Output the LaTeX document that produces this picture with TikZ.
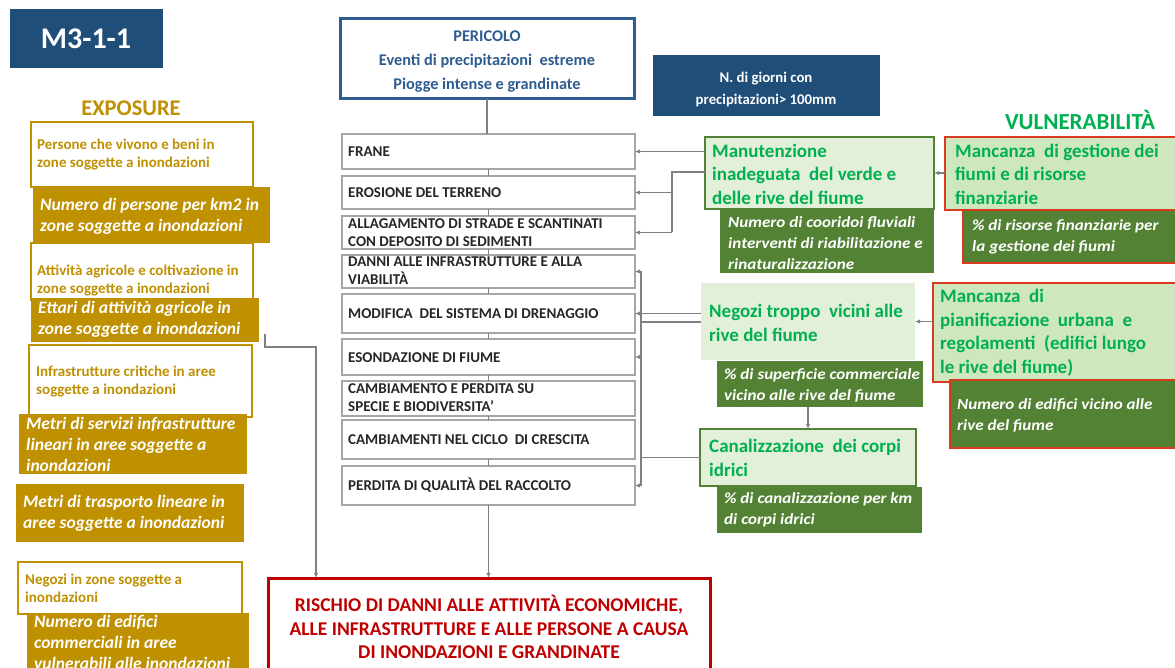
\documentclass[tikz,border=0pt]{standalone}
\usepackage{fontspec}
\setmainfont{Carlito}
\newfontfamily\indfont[FakeStretch=1.1]{Carlito}
\usetikzlibrary{arrows.meta}
\definecolor{navy}{HTML}{1F4E79}
\definecolor{perblue}{HTML}{2E5C8E}
\definecolor{gold}{HTML}{BF9000}
\definecolor{lgreen}{HTML}{E2F0D9}
\definecolor{vfill}{HTML}{CFE7BF}
\definecolor{dgreen}{HTML}{548235}
\definecolor{tgreen}{HTML}{00B050}
\definecolor{vred}{HTML}{D83B1E}
\definecolor{rred}{HTML}{C00000}
\definecolor{bgray}{HTML}{A6A6A6}
\definecolor{cgray}{HTML}{808080}
\definecolor{tdark}{HTML}{262626}
\newcommand\fs[2]{\fontsize{#1}{#2}\selectfont}
\newcommand\rbox[6]{%
 \pgfmathsetmacro\bxw{#4-#2}\pgfmathsetmacro\bxh{#5-#3}%
 \pgfmathsetmacro\bxcx{(#2+#4)/2}\pgfmathsetmacro\bxcy{(#3+#5)/2}%
 \node[#6, minimum width=\bxw pt, minimum height=\bxh pt, inner sep=0pt, outer sep=0pt] (#1) at (\bxcx,\bxcy) {};}
\newcommand\tx[5]{\node[#4, anchor=west, inner sep=0pt, align=left] (#1) at (#2,#3) {#5};}
\newcommand\tc[5]{\node[#4, inner sep=0pt, align=center] (#1) at (#2,#3) {#5};}
\begin{document}
\begin{tikzpicture}[x=1pt,y=-1pt,
 ew/.style={draw=gold, line width=1.5pt, fill=white},
 ef/.style={fill=gold},
 etw/.style={text=gold, font=\bfseries\fs{15}{18}},
 etf/.style={text=white, font=\bfseries\itshape\fs{17.5}{21}},
 cb/.style={draw=bgray, line width=1.5pt, fill=white},
 ct/.style={text=tdark, font=\bfseries\fs{15}{18}},
 gb/.style={fill=lgreen, draw=dgreen, line width=1.5pt},
 gt/.style={text=tgreen, font=\bfseries\fs{19}{23.5}},
 dg/.style={fill=dgreen},
 indt/.style={text=white, font=\indfont\bfseries\itshape\fs{15.5}{21}},
 vb/.style={fill=vfill, draw=vred, line width=2pt},
 vi/.style={fill=dgreen, draw=vred, line width=1.5pt},
 conn/.style={draw=cgray, line width=1.3pt},
 arr/.style={conn, -{Latex[length=5pt,width=4.5pt]}}]
\fill[white] (0,0) rectangle (1175,668);
\useasboundingbox (0,0) rectangle (1175,668);
% title
\rbox{title}{10}{9}{163}{68}{fill=navy}
\tc{title-t}{86}{39}{text=white,font=\bfseries\fs{30}{34}}{M3-1-1}
% exposure
\tc{expo-h}{131}{108}{text=gold,font=\bfseries\fs{22.4}{25}}{EXPOSURE}
\rbox{e1}{31}{122}{253}{187}{ew}
\tx{e1-t}{37}{155}{etw}{Persone che vivono e beni in\\zone soggette a inondazioni}
\rbox{e2}{33}{187}{270}{243}{ef}
\tx{e2-t}{40}{216}{etf}{Numero di persone per km2 in\\zone soggette a inondazioni}
\rbox{e3}{31}{243}{253}{300}{ew}
\tx{e3-t}{37}{280}{etw}{Attività agricole e coltivazione in\\zone soggette a inondazioni}
\rbox{e4}{31}{298}{259}{342}{ef}
\tx{e4-t}{38}{319}{etf}{Ettari di attività agricole in\\zone soggette a inondazioni}
\rbox{e5}{29}{345}{252}{417}{ew}
\tx{e5-t}{36}{381}{etw}{Infrastrutture critiche in aree\\soggette a inondazioni}
\rbox{e6}{19}{414}{247}{474}{ef}
\tx{e6-t}{26}{444}{etf}{Metri di servizi infrastrutture\\lineari in aree soggette a\\inondazioni}
\rbox{e7}{16}{484}{244}{542}{ef}
\tx{e7-t}{23}{513}{etf}{Metri di trasporto lineare in\\aree soggette a inondazioni}
\rbox{e8}{18}{562}{242}{614}{ew}
\tx{e8-t}{25}{588}{etw}{Negozi in zone soggette a\\inondazioni}
\rbox{e9}{27}{613}{249}{675}{ef}
\tx{e9-t}{34}{642}{etf}{Numero di edifici\\commerciali in aree\\vulnerabili alle inondazioni}
% hazard
\rbox{per}{340}{19}{634}{99}{draw=perblue, line width=3pt, fill=white}
\tc{per-t}{487}{62}{text=perblue, font=\bfseries\fs{16.3}{24}}{PERICOLO\\Eventi di precipitazioni\ \ estreme\\Piogge intense e grandinate}
\rbox{ngio}{653}{55}{880}{116}{fill=navy}
\tc{ngio-t}{766}{89}{text=white,font=\bfseries\fs{14.8}{22}}{N. di giorni con\\precipitazioni> 100mm}
% impacts
\rbox{frane}{342}{134}{635}{169}{cb}
\tx{frane-t}{348}{152}{ct}{FRANE}
\rbox{eros}{342}{176}{635}{209}{cb}
\tx{eros-t}{348}{193}{ct}{EROSIONE DEL TERRENO}
\rbox{alla}{342}{216}{635}{249}{cb}
\tx{alla-t}{348}{233}{ct}{ALLAGAMENTO DI STRADE E SCANTINATI\\CON DEPOSITO DI SEDIMENTI}
\rbox{danni}{342}{255}{635}{288}{cb}
\tx{danni-t}{348}{271}{ct}{DANNI ALLE INFRASTRUTTURE E ALLA\\VIABILITÀ}
\rbox{modi}{342}{294}{635}{333}{cb}
\tx{modi-t}{348}{314}{ct}{MODIFICA\ \ DEL SISTEMA DI DRENAGGIO}
\rbox{eson}{342}{339}{635}{375}{cb}
\tx{eson-t}{348}{358}{ct}{ESONDAZIONE DI FIUME}
\rbox{camb}{342}{381}{635}{416}{cb}
\tx{camb-t}{348}{398}{ct}{CAMBIAMENTO E PERDITA SU\\SPECIE E BIODIVERSITA'}
\rbox{cicl}{342}{420}{635}{459}{cb}
\tx{cicl-t}{348}{440}{ct}{CAMBIAMENTI NEL CICLO\ \ DI CRESCITA}
\rbox{perd}{342}{466}{635}{505}{cb}
\tx{perd-t}{348}{485}{ct}{PERDITA DI QUALITÀ DEL RACCOLTO}
% risk
\rbox{risc}{268}{578}{710}{677}{draw=rred, line width=3pt, fill=white}
\tc{risc-t}{489}{627}{text=rred,font=\bfseries\fs{19.5}{23.5}}{RISCHIO DI DANNI ALLE ATTIVITÀ ECONOMICHE,\\ALLE INFRASTRUTTURE E ALLE PERSONE A CAUSA\\DI INONDAZIONI E GRANDINATE}
% vulnerability
\tc{vuln-h}{1080}{120}{text=tgreen,font=\bfseries\fs{23}{26}}{VULNERABILITÀ}
\rbox{manu}{705}{137}{934}{209}{gb}
\tx{manu-t}{712}{174}{gt}{Manutenzione\\inadeguata\ \ del verde e\\delle rive del fiume}
\rbox{manu-i}{720}{209}{934}{273}{dg}
\tx{manu-it}{728}{243}{indt}{Numero di cooridoi fluviali\\interventi di riabilitazione e\\rinaturalizzazione}
\rbox{gest}{945}{137}{1190}{210}{vb}
\tx{gest-t}{955}{174}{gt}{Mancanza\ \ di gestione dei\\fiumi e di risorse\\finanziarie}
\rbox{gest-i}{963}{210}{1190}{263}{vi}
\tx{gest-it}{972}{237}{indt}{\% di risorse finanziarie per\\la gestione dei fiumi}
\rbox{nego}{701}{283}{915}{360}{fill=lgreen}
\tx{nego-t}{709}{323}{gt}{Negozi troppo\ \ vicini alle\\rive del fiume}
\rbox{nego-i}{717}{361}{923}{407}{dg}
\tx{nego-it}{724}{385}{indt}{\% di superficie commerciale\\vicino alle rive del fiume}
\rbox{cana}{700}{429}{916}{486}{gb}
\tx{cana-t}{709}{458}{gt}{Canalizzazione\ \ dei corpi\\idrici}
\rbox{cana-i}{717}{487}{922}{533}{dg}
\tx{cana-it}{724}{510}{indt}{\% di canalizzazione per km\\di corpi idrici}
\rbox{pian}{933}{283}{1190}{382}{vb}
\tx{pian-t}{940}{333}{gt}{Mancanza\ \ di\\pianificazione\ \ urbana\ \ e\\regolamenti\ \ (edifici lungo\\le rive del fiume)}
\rbox{pian-i}{950}{380}{1190}{448}{vi}
\tx{pian-it}{957}{415}{indt}{Numero di edifici vicino alle\\rive del fiume}
% connectors
\draw[conn] (per.south) -- (per.south |- frane.north);
\draw[conn] (frane.south) -- (eros.north);
\draw[conn] (eros.south) -- (alla.north);
\draw[conn] (alla.south) -- (danni.north);
\draw[conn] (danni.south) -- (modi.north);
\draw[conn] (modi.south) -- (eson.north);
\draw[conn] (eson.south) -- (camb.north);
\draw[conn] (camb.south) -- (cicl.north);
\draw[conn] (cicl.south) -- (perd.north);
\draw[arr] (perd.south) -- (perd.south |- risc.north);
\coordinate (ex0) at (265,334);
\coordinate (ex1) at (316,347);
\draw[arr] (ex0) |- (ex1) -- (ex1 |- risc.north);
\draw[arr] (manu.west |- frane.east) -- (frane.east);
\coordinate (mb) at (672,172);
\draw[conn] (manu.west |- mb) -- (mb) -- (mb |- alla.east);
\draw[arr] (mb |- eros.east) -- (eros.east);
\draw[arr] (mb |- alla.east) -- (alla.east);
\draw[arr] (gest.west |- manu.east) -- (manu.east);
\draw[arr] (nego.west |- modi.east) -- (modi.east);
\coordinate (bus) at (641,322);
\draw[conn] (nego.west |- bus) -- (bus);
\draw[conn] (bus |- danni.east) -- (bus |- perd.east);
\draw[arr] (bus |- danni.east) -- (danni.east);
\draw[arr] (bus |- eson.east) -- (eson.east);
\draw[arr] (bus |- perd.east) -- (perd.east);
\draw[conn] (cana.west) -- (cana.west -| bus);
\draw[arr] (pian.west |- nego.east) -- (nego.east);
\draw[arr] (nego-i.south -| cana.north) -- (cana.north);
\end{tikzpicture}
\end{document}
